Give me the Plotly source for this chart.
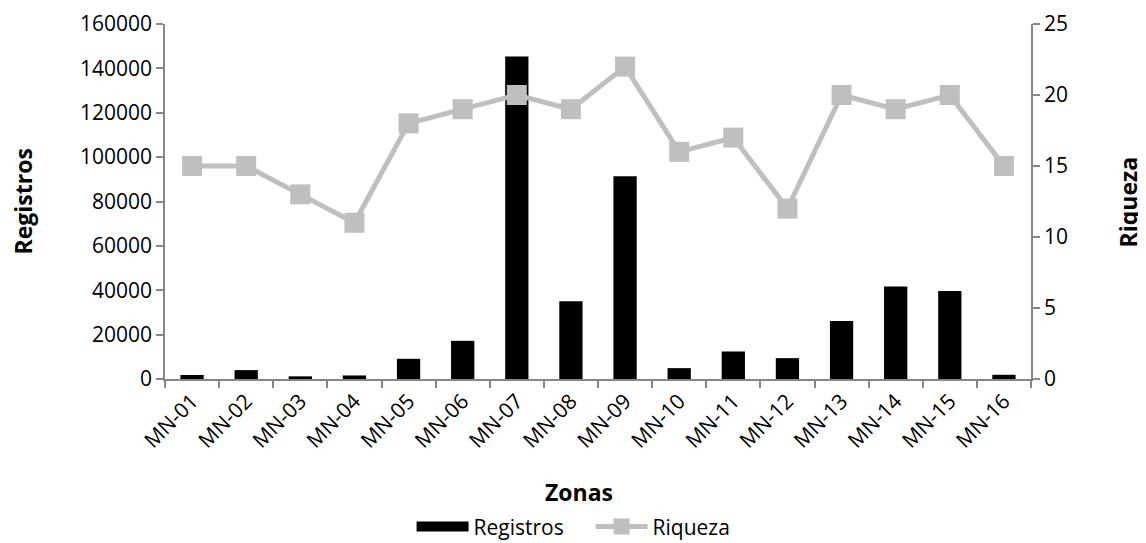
import plotly.graph_objects as go

zonas = ["MN-01", "MN-02", "MN-03", "MN-04", "MN-05", "MN-06", "MN-07", "MN-08",
         "MN-09", "MN-10", "MN-11", "MN-12", "MN-13", "MN-14", "MN-15", "MN-16"]
registros = [1800, 4000, 1200, 1600, 9100, 17200, 145400, 35000,
             91400, 4900, 12400, 9400, 26100, 41700, 39700, 1900]
riqueza = [15, 15, 13, 11, 18, 19, 20, 19, 22, 16, 17, 12, 20, 19, 20, 15]

FONT = "Open Sans"
AX = "#868686"
GREY = "#BFBFBF"

fig = go.Figure()
fig.add_trace(go.Bar(x=zonas, y=registros, name="Registros", showlegend=False,
                     marker=dict(color="black", line=dict(color="black", width=0)),
                     yaxis="y"))
# legend glyph for the bars (wide black rectangle)
fig.add_trace(go.Scatter(x=[None], y=[None], name="Registros\u00a0\u00a0\u00a0\u00a0", mode="lines",
                         line=dict(color="black", width=13), yaxis="y"))
fig.add_trace(go.Scatter(x=zonas, y=riqueza, name="Riqueza", mode="lines+markers",
                         line=dict(color=GREY, width=5),
                         marker=dict(symbol="square", size=20, color=GREY),
                         yaxis="y2"))

fig.update_layout(
    width=1138, height=535,
    margin=dict(l=157, r=115, t=16, b=164),
    paper_bgcolor="white", plot_bgcolor="white",
    font=dict(family=FONT, size=21, color="black"),
    bargap=0.57,
    showlegend=True,
    legend=dict(orientation="h", xref="container", yref="container",
                x=0.497, xanchor="center", y=0.03, yanchor="middle",
                font=dict(size=21), itemwidth=52, tracegroupgap=0),
    xaxis=dict(type="category", range=[-0.5, len(zonas) - 0.5], showline=True,
               linecolor=AX, linewidth=1.5,
               ticks="outside", tickson="boundaries", ticklen=7, tickcolor=AX, tickwidth=1.5,
               tickangle=-45, showgrid=False, automargin=False),
    yaxis=dict(range=[0, 160000], dtick=20000, showline=True, linecolor=AX, linewidth=1.5,
               ticks="outside", ticklen=7, tickcolor=AX, tickwidth=1.5, showgrid=False,
               zeroline=False, tickformat="d", automargin=False, ticklabeloverflow="allow"),
    yaxis2=dict(range=[0, 25], dtick=5, overlaying="y", side="right", showline=True,
                linecolor=AX, linewidth=1.5, ticks="outside", ticklen=7, tickcolor=AX,
                tickwidth=1.5, showgrid=False, zeroline=False, automargin=False,
                ticklabeloverflow="allow"),
    annotations=[
        dict(text="<b>Registros</b>", xref="paper", yref="paper", x=-0.164, y=0.5,
             textangle=-90, showarrow=False, xanchor="center", yanchor="middle",
             font=dict(size=23)),
        dict(text="<b>Riqueza</b>", xref="paper", yref="paper", x=1.112, y=0.5,
             textangle=-90, showarrow=False, xanchor="center", yanchor="middle",
             font=dict(size=23)),
        dict(text="<b>Zonas</b>", xref="paper", yref="paper", x=0.478, y=-0.318,
             showarrow=False, xanchor="center", yanchor="middle",
             font=dict(size=23)),
    ],
)

fig.write_html("out.html")
